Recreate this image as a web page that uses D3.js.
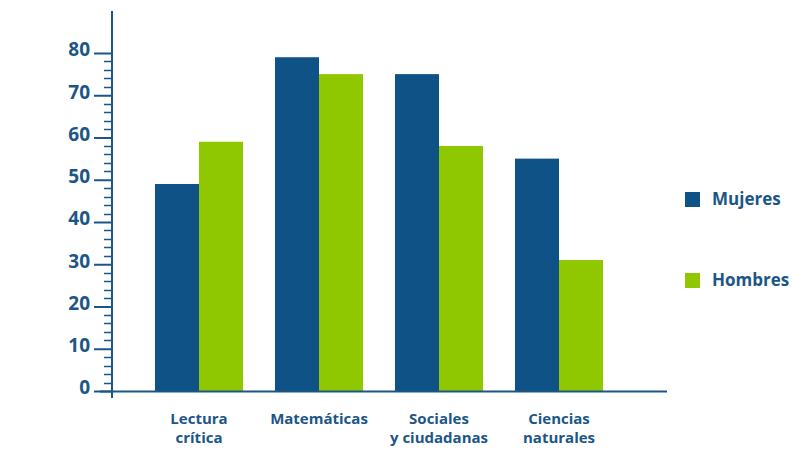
<!DOCTYPE html>
<html><head><meta charset="utf-8">
<script src="https://cdn.jsdelivr.net/npm/d3@7"></script>
<style>body{margin:0;background:#fff}svg{display:block}</style>
</head><body>
<svg id="c" width="792" height="450"></svg>
<script>
const categories = [["Lectura","crítica"],["Matemáticas"],["Sociales","y ciudadanas"],["Ciencias","naturales"]];
const seriesNames = ["Mujeres","Hombres"];
const mujeres = [49, 79, 75, 55];
const hombres = [59, 75, 58, 31];
const yTicks = [0,10,20,30,40,50,60,70,80];

const colors = {Mujeres:"#0f5386", Hombres:"#8fc800"};
const textColor = "#1b5687";
const font = "'Open Sans', Lato, sans-serif";
const svg = d3.select("#c");

const catKeys = categories.map(c=>c.join(" "));
const x = d3.scaleBand().domain(catKeys).range([139,619]).paddingInner(32/120).paddingOuter(16/120);
const x1 = d3.scaleBand().domain(seriesNames).range([0, x.bandwidth()]);
const y = d3.scaleLinear().domain([0,80]).range([391,53]);

// bars
const data = catKeys.map((k,i)=>({k, vals:[{s:"Mujeres",v:mujeres[i]},{s:"Hombres",v:hombres[i]}]}));
svg.append("g").selectAll("g").data(data).join("g")
  .attr("transform", d=>`translate(${x(d.k)},0)`)
  .selectAll("rect").data(d=>d.vals).join("rect")
  .attr("x", d=>x1(d.s)).attr("width", x1.bandwidth())
  .attr("y", d=>y(d.v)).attr("height", d=>y(0)-y(d.v))
  .attr("fill", d=>colors[d.s]);

// baseline
svg.append("line").attr("x1",100).attr("x2",667).attr("y1",y(0)+0.5).attr("y2",y(0)+0.5)
  .attr("stroke",textColor).attr("stroke-width",2);

// y axis
const axisX = 112;
svg.append("line").attr("x1",axisX).attr("x2",axisX).attr("y1",11).attr("y2",398)
  .attr("stroke",textColor).attr("stroke-width",2);
const minor = d3.range(0,81,2).filter(v=>v%10!==0);
svg.append("g").selectAll("line").data(minor).join("line")
  .attr("x1",104).attr("x2",axisX).attr("y1",d=>Math.round(y(d))+0.5).attr("y2",d=>Math.round(y(d))+0.5)
  .attr("stroke",textColor).attr("stroke-width",1.5);
const yAxis = d3.axisLeft(y).tickValues(yTicks).tickSize(18).tickPadding(4);
const ga = svg.append("g").attr("transform",`translate(${axisX},0)`).call(yAxis);
ga.select(".domain").remove();
ga.selectAll(".tick line").attr("stroke",textColor).attr("stroke-width",2);
ga.selectAll(".tick text").attr("fill",textColor).attr("font-family",font)
  .attr("font-weight","bold").attr("font-size",19).attr("dy","0.15em");

// x labels
const xl = svg.append("g").selectAll("text").data(categories).join("text")
  .attr("x",(d,i)=>x(catKeys[i])+x.bandwidth()/2).attr("y",424)
  .attr("text-anchor","middle").attr("fill",textColor).attr("font-family",font)
  .attr("font-weight","bold").attr("font-size",15);
xl.selectAll("tspan").data(d=>d).join("tspan")
  .attr("x",function(){return this.parentNode.getAttribute("x");})
  .attr("dy",(d,i)=>i===0?0:19).text(d=>d);

// legend
const leg = svg.append("g").selectAll("g").data(seriesNames).join("g")
  .attr("transform",(d,i)=>`translate(685,${192+i*81})`);
leg.append("rect").attr("width",15).attr("height",15).attr("fill",d=>colors[d]);
leg.append("text").attr("x",27).attr("y",13).text(d=>d)
  .attr("fill",textColor).attr("font-family",font).attr("font-weight","bold").attr("font-size",17);
</script>
</body></html>
